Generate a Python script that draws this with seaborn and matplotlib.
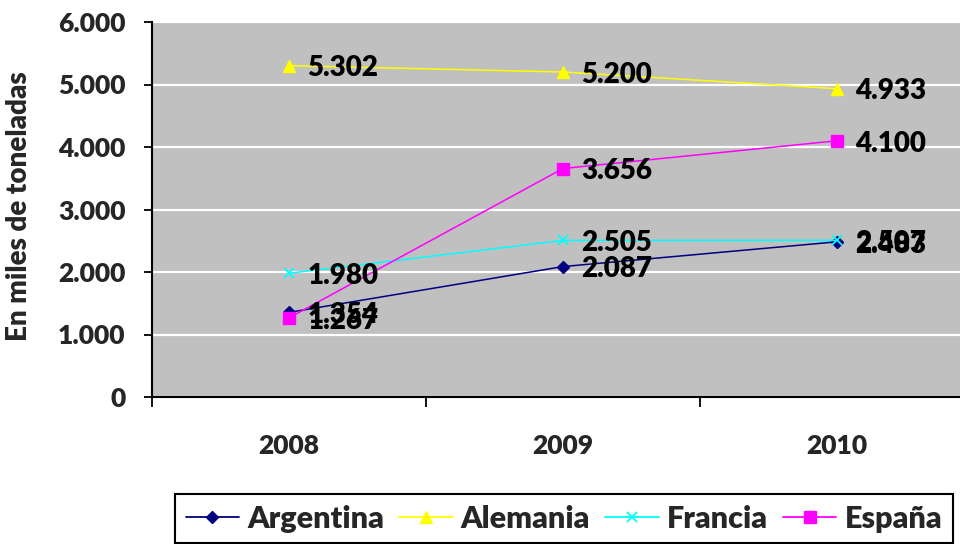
import matplotlib
matplotlib.use("Agg")
import matplotlib.pyplot as plt
import seaborn as sns
import pandas as pd

# Production series (thousands of tonnes)
years = ["2008", "2009", "2010"]
argentina = [1354, 2087, 2483]
alemania = [5302, 5200, 4933]
francia = [1980, 2505, 2507]
espana = [1267, 3656, 4100]

series_names = ["Argentina", "Alemania", "Francia", "España"]
series_values = [argentina, alemania, francia, espana]
colors = {"Argentina": "#000080", "Alemania": "#FFFF00",
          "Francia": "#00FFFF", "España": "#FF00FF"}
markers = {"Argentina": "D", "Alemania": "^", "Francia": "x", "España": "s"}
marker_sizes = {"Argentina": 6.5, "Alemania": 8, "Francia": 7, "España": 8}
y_ticks = [0, 1000, 2000, 3000, 4000, 5000, 6000]


def fmt(v):
    return f"{v:,}".replace(",", ".")


rows = []
for name, vals in zip(series_names, series_values):
    for i, (yr, v) in enumerate(zip(years, vals)):
        rows.append({"pais": name, "pos": i + 0.5, "anio": yr, "valor": v})
df = pd.DataFrame(rows)

sns.set_theme(style="white")
plt.rcParams["font.family"] = ["Lato", "DejaVu Sans"]
plt.rcParams["font.weight"] = "bold"

fig = plt.figure(figsize=(9.6, 5.44), dpi=100)
ax = fig.add_axes([152 / 960, 1 - 397 / 544, 822 / 960, 375 / 544])
ax.set_facecolor("#C0C0C0")

# one line per country (filled and line-art markers are mixed)
for name in series_names:
    sub = df[df["pais"] == name]
    c = colors[name]
    sns.lineplot(data=sub, x="pos", y="valor", color=c, marker=markers[name],
                 markersize=marker_sizes[name], markeredgecolor=c,
                 markerfacecolor=c,
                 markeredgewidth=1.3 if name == "Francia" else 1.0,
                 linewidth=1.1, ax=ax, zorder=3)

# value labels next to each point
for name, vals in zip(series_names, series_values):
    for i, v in enumerate(vals):
        ax.annotate(fmt(v), (i + 0.5, v), xytext=(13, -2),
                    textcoords="offset points", ha="left", va="center",
                    fontsize=20, fontweight="heavy", color="black", zorder=5)

ax.set_xlim(0, 3)
ax.set_ylim(0, 6000)
ax.set_yticks(y_ticks)
ax.set_yticklabels([fmt(t) for t in y_ticks], fontsize=19, fontweight="heavy")
ax.yaxis.grid(True, color="white", linewidth=1.6)
ax.xaxis.grid(False)
ax.set_axisbelow(True)

ax.set_xticks([0, 1, 2, 3])
ax.set_xticklabels([])
ax.set_xticks([0.5, 1.5, 2.5], minor=True)
ax.set_xticklabels(years, minor=True, fontsize=19, fontweight="heavy")
ax.tick_params(axis="x", which="major", direction="out", length=7,
               width=1.3, color="black", bottom=True)
ax.tick_params(axis="x", which="minor", length=0, pad=27, bottom=True)
ax.tick_params(axis="y", direction="out", length=6, width=1.3,
               color="black", pad=13, left=True)

for side in ("top", "right"):
    ax.spines[side].set_visible(False)
for side in ("left", "bottom"):
    ax.spines[side].set_color("black")
    ax.spines[side].set_linewidth(1.5)

ax.set_xlabel("")
ax.set_ylabel("En miles de toneladas", fontsize=20, fontweight="heavy")
ax.yaxis.set_label_coords(-0.146, 0.51)

handles = [plt.Line2D([], [], color=colors[n], marker=markers[n], linewidth=1.3,
                      markersize=marker_sizes[n],
                      markeredgecolor=colors[n], markerfacecolor=colors[n],
                      markeredgewidth=1.3 if n == "Francia" else 1.0)
           for n in series_names]
leg = fig.legend(handles, series_names, loc="upper left",
                 bbox_to_anchor=(175 / 960, 1 - 494 / 544), ncol=4,
                 frameon=True, fancybox=False, framealpha=1,
                 edgecolor="black", facecolor="white",
                 prop={"size": 22, "weight": "heavy"},
                 handlelength=1.75, handletextpad=0.26, columnspacing=0.5,
                 borderpad=0.35, borderaxespad=0)
leg.get_frame().set_linewidth(1.5)

fig.savefig("out.png", dpi=100)
